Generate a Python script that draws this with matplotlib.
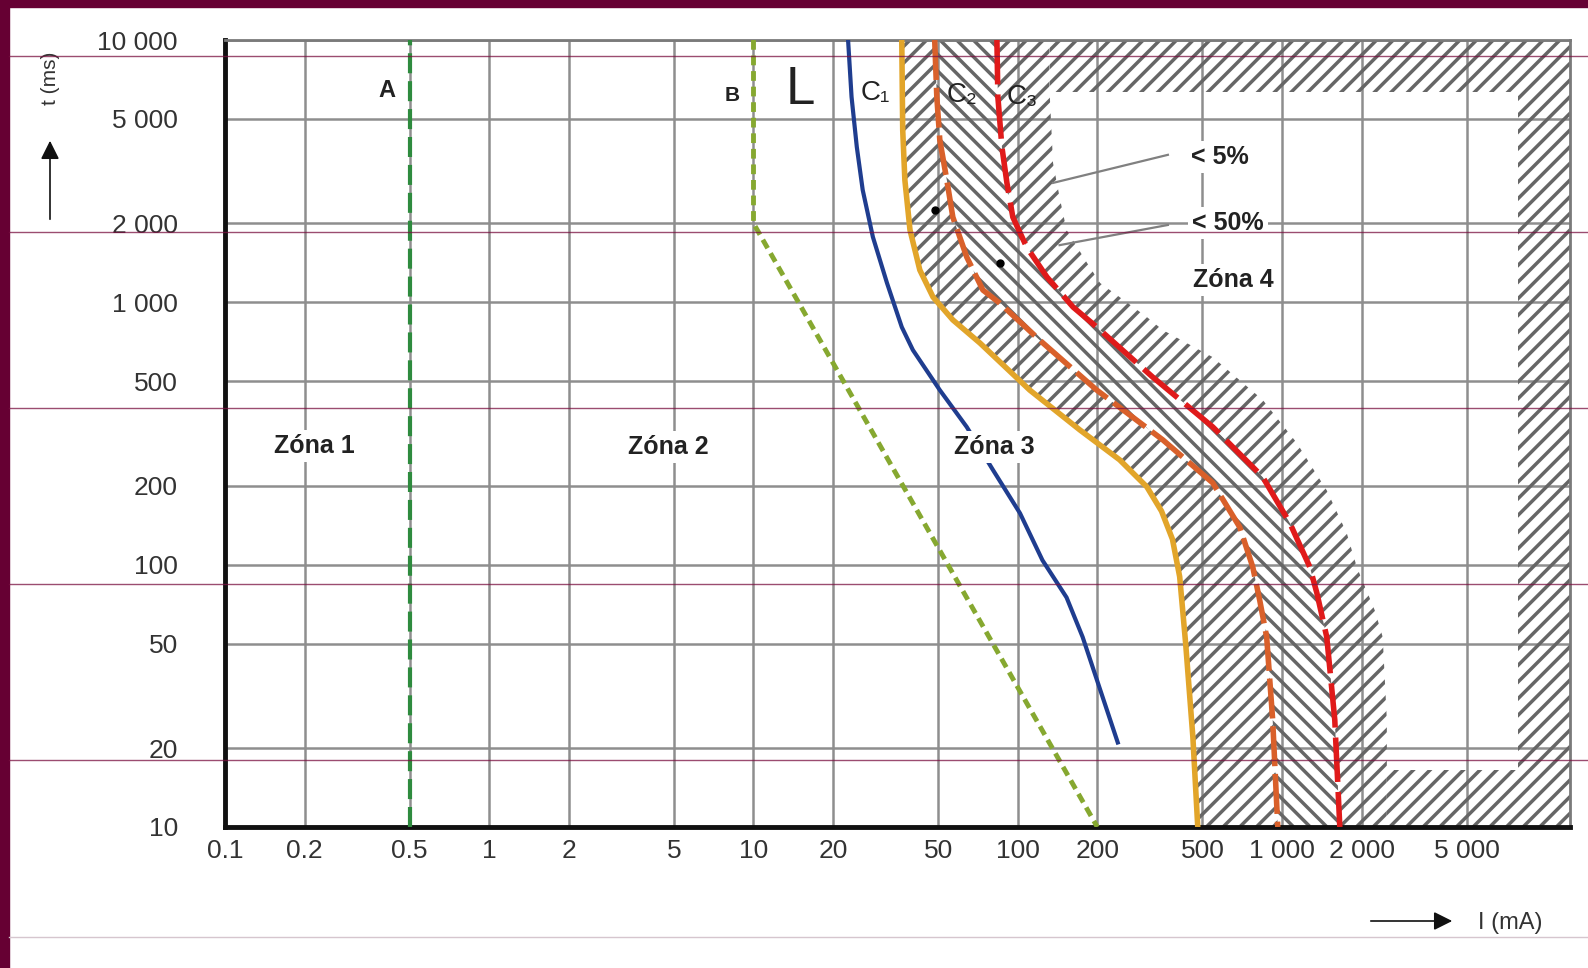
import matplotlib
matplotlib.use("Agg")
import matplotlib.pyplot as plt
from matplotlib.lines import Line2D
from matplotlib.patches import Rectangle

plt.rcParams["font.family"] = ["Liberation Sans", "DejaVu Sans"]
plt.rcParams["hatch.linewidth"] = 2.5

X_TICKS = [0.1, 0.2, 0.5, 1, 2, 5, 10, 20, 50, 100, 200, 500, 1000, 2000, 5000]
X_LABELS = ["0.1", "0.2", "0.5", "1", "2", "5", "10", "20", "50", "100", "200", "500",
            "1 000", "2 000", "5 000"]
Y_TICKS = [10, 20, 50, 100, 200, 500, 1000, 2000, 5000, 10000]
Y_LABELS = ["10", "20", "50", "100", "200", "500", "1 000", "2 000", "5 000", "10 000"]

I_MIN, I_MAX = 0.1, 12300
T_MIN, T_MAX = 10, 10000

# curve a / b (mA, ms)
A_I = [0.5, 0.5]
A_T = [10, 10000]
B_I = [10, 10, 200]
B_T = [10000, 2000, 10]

# curve L
L_I = [22.8, 23.5, 24.6, 25.9, 28.3, 32.0, 36.4, 40.1, 50.7, 64.1, 80.5, 102, 124, 153, 176, 239]
L_T = [10000, 6070, 3910, 2680, 1775, 1185, 805, 658, 463, 335, 230, 157, 104, 75, 53, 21]

# curves c1, c2, c3
C1_I = [36.4, 36.7, 37.4, 39.1, 42.6, 47.8, 56.8, 71.9, 111, 172, 243, 308, 350, 385, 410, 432, 460, 480]
C1_T = [10000, 4540, 2925, 1888, 1328, 1047, 857, 700, 463, 326, 251, 198, 160, 125, 90, 50, 22, 10]
C2_I = [48.5, 49.4, 50.7, 53.9, 56.8, 64.1, 73.8, 85.5, 121, 199, 354, 547, 692, 775, 824, 875, 922, 964]
C2_T = [10000, 6070, 4160, 2925, 2113, 1489, 1114, 993, 718, 463, 299, 205, 139, 98, 73, 53, 25.6, 10]
C3_I = [83.4, 84.1, 87.1, 91.0, 95.8, 108, 129, 162, 199, 324, 547, 845, 1071, 1274, 1355, 1477, 1584, 1655]
C3_T = [10000, 6070, 3910, 2853, 2113, 1626, 1248, 959, 805, 519, 335, 216, 144, 98, 78, 53, 25.6, 10]

# right edge of the hatched band next to c3
EDGE_I = [132, 136, 144, 153, 183, 205, 243, 308, 354, 547, 845, 1138, 1477, 1758, 1919, 2244, 2405, 2493, 2493]
EDGE_T = [6340, 3398, 2518, 1888, 1413, 1185, 1047, 879, 784, 618, 425, 291, 192, 132, 98, 67, 53, 25.6, 16.5]

# zone 4 frame (hatched borders)
TOP_BAND_T = 6340
RIGHT_BAND_I = 7800
BOTTOM_BAND_T = 16.5

DOT_I = [48.5, 85.5]
DOT_T = [2250, 1413]

W, H = 1588, 968
fig = plt.figure(figsize=(W / 100, H / 100), dpi=100)
ax = fig.add_axes([225 / W, 1 - 827 / H, (1570 - 225) / W, (827 - 40) / H])
ax.set_xscale("log")
ax.set_yscale("log")
ax.set_xlim(I_MIN, I_MAX)
ax.set_ylim(T_MIN, T_MAX)
ax.set_xticks(X_TICKS)
ax.set_xticklabels(X_LABELS)
ax.set_yticks(Y_TICKS)
ax.set_yticklabels(Y_LABELS)
ax.minorticks_off()
ax.tick_params(length=0, labelsize=19, colors="#333333")
ax.tick_params(axis="y", pad=34)
ax.tick_params(axis="x", pad=9)
ax.set_axisbelow(True)
ax.grid(True, color="#8e8e8e", lw=1.8)
for side in ["left", "bottom"]:
    ax.spines[side].set_linewidth(3.5)
    ax.spines[side].set_color("#111111")
for side in ["top", "right"]:
    ax.spines[side].set_linewidth(2)
    ax.spines[side].set_color("#7a7a7a")

hatch_kw = dict(facecolor="none", edgecolor="#666666", lw=0, zorder=1.5)
ax.fill(C1_I + C2_I[::-1], C1_T + C2_T[::-1], hatch="//", **hatch_kw)
ax.fill(C2_I + C3_I[::-1], C2_T + C3_T[::-1], hatch="\\\\", **hatch_kw)
ax.fill(C3_I + [EDGE_I[-1]] + EDGE_I[::-1] + [EDGE_I[0]],
        C3_T + [T_MIN] + EDGE_T[::-1] + [T_MAX], hatch="//", **hatch_kw)
ax.fill([EDGE_I[0], I_MAX, I_MAX, EDGE_I[0]], [TOP_BAND_T, TOP_BAND_T, T_MAX, T_MAX], hatch="//", **hatch_kw)
ax.fill([RIGHT_BAND_I, I_MAX, I_MAX, RIGHT_BAND_I], [BOTTOM_BAND_T, BOTTOM_BAND_T, TOP_BAND_T, TOP_BAND_T],
        hatch="//", **hatch_kw)
ax.fill([EDGE_I[-1], I_MAX, I_MAX, EDGE_I[-1]], [T_MIN, T_MIN, BOTTOM_BAND_T, BOTTOM_BAND_T], hatch="//", **hatch_kw)

ax.plot(A_I, A_T, color="#2e8b3e", lw=3, dashes=(4.8, 1.9), zorder=3)
ax.plot(B_I, B_T, color="#86a830", lw=3.5, dashes=(2.0, 1.2), zorder=3)
ax.plot(L_I, L_T, color="#1f3d8f", lw=3, zorder=3)
ax.plot(C1_I, C1_T, color="#e2a52a", lw=4, zorder=3)
ax.plot(C2_I, C2_T, color="#d9602a", lw=4, dashes=(7.2, 1.4), zorder=3)
ax.plot(C3_I, C3_T, color="#e01a1a", lw=4, dashes=(8, 1.8), zorder=3)
ax.plot(DOT_I, DOT_T, "o", color="black", ms=5, zorder=4)

txt = dict(color="#222222", ha="center", va="center", zorder=5)
box = dict(facecolor="white", edgecolor="none", pad=3)
ax.text(0.41, 6440, "A", fontsize=17, fontweight="bold", **txt)
ax.text(8.3, 6170, "B", fontsize=15, fontweight="bold", **txt)
ax.text(15.0, 6440, "L", fontsize=38, **txt)
ax.text(28.8, 6280, "C₁", fontsize=20, **txt)
ax.text(61.4, 6170, "C₂", fontsize=20, **txt)
ax.text(104, 6070, "C₃", fontsize=20, **txt)
ax.text(0.217, 283, "Zóna 1", fontsize=18, fontweight="bold", bbox=box, **txt)
ax.text(4.74, 281, "Zóna 2", fontsize=18, fontweight="bold", bbox=box, **txt)
ax.text(81.8, 281, "Zóna 3", fontsize=18, fontweight="bold", bbox=box, **txt)
ax.text(652, 1216, "Zóna 4", fontsize=18, fontweight="bold", bbox=box, **txt)
ax.text(582, 3580, "< 5%", fontsize=18, fontweight="bold", bbox=box, **txt)
ax.text(624, 2005, "< 50%", fontsize=18, fontweight="bold", bbox=box, **txt)
ax.plot([370, 136], [3650, 2853], color="#808080", lw=1.6, zorder=4)
ax.plot([370, 144], [1972, 1652], color="#808080", lw=1.6, zorder=4)

# axis captions with arrows
fig.text(50 / W, 1 - 78 / H, "t (ms)", rotation=90, ha="center", va="center", fontsize=15, color="#333333")
ax.annotate("", xy=(50 / W, 1 - 138 / H), xytext=(50 / W, 1 - 222 / H), xycoords="figure fraction",
            arrowprops=dict(arrowstyle="-|>", color="#111111", lw=1.2, mutation_scale=28))
fig.text(1510 / W, 1 - 923 / H, "I (mA)", ha="center", va="center", fontsize=17, color="#333333")
ax.annotate("", xy=(1455 / W, 1 - 921 / H), xytext=(1368 / W, 1 - 921 / H), xycoords="figure fraction",
            arrowprops=dict(arrowstyle="-|>", color="#111111", lw=1.2, mutation_scale=28))

# slide frame and ruled lines
fig.add_artist(Rectangle((0, 1 - 7 / H), 1, 7 / H, transform=fig.transFigure, color="#660033", zorder=10))
fig.add_artist(Rectangle((0, 0), 9 / W, 1, transform=fig.transFigure, color="#660033", zorder=10))
for y in [56, 232, 408, 584, 760]:
    fig.add_artist(Line2D([9 / W, 1], [1 - y / H] * 2, transform=fig.transFigure,
                          color="#7a1040", lw=1, alpha=0.75, zorder=10))
fig.add_artist(Line2D([9 / W, 1], [1 - 937 / H] * 2, transform=fig.transFigure,
                      color="#d6c6ce", lw=1, zorder=10))

fig.savefig("out.png", dpi=100)
